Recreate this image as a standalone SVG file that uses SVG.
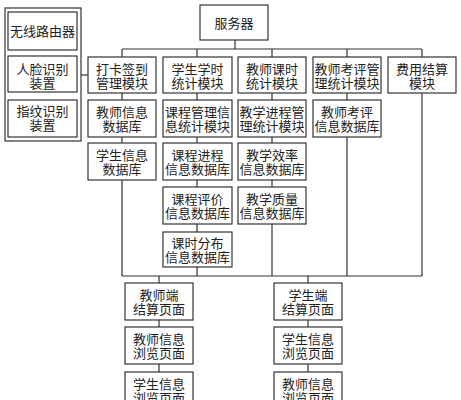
<svg xmlns="http://www.w3.org/2000/svg" width="461" height="400" viewBox="0 0 461 400">
<style>
rect{fill:#fff;stroke:#333;stroke-width:1.2}
text{font-family:"Noto Sans CJK SC","Noto Sans",sans-serif;font-size:13px;fill:#222;text-anchor:middle}
.c{fill:none;stroke:#333;stroke-width:1.2}
</style>
<rect width="461" height="400" style="stroke:none"/>
<g id="connectors">
<path class="c" d="M235,40V49M122,49H422M122,49V57M197,49V57M272,49V57M347,49V57M422,49V57"/>
<path class="c" d="M81,75H88"/>
<path class="c" d="M122,93V100M122,137V143M122,180V276"/>
<path class="c" d="M197,93V100M197,137V143M197,180V187M197,224V232M197,267V276"/>
<path class="c" d="M272,93V100M272,137V143M272,180V187M272,224V276"/>
<path class="c" d="M347,93V100M347,137V276"/>
<path class="c" d="M422,93V276"/>
<path class="c" d="M122,276H422"/>
<path class="c" d="M159,276V283M159,320V327M159,364V372"/>
<path class="c" d="M308,276V283M308,320V327M308,364V372"/>
</g>
<g id="devices"><rect x="5" y="8" width="76" height="133"/></g>
<g id="router"><rect x="8" y="12" width="69" height="38"/><text x="42.5" y="36">无线路由器</text></g>
<g id="face"><rect x="8" y="56" width="69" height="36"/><text x="42.5" y="74">人脸识别</text><text x="42.5" y="88">装置</text></g>
<g id="finger"><rect x="8" y="100" width="69" height="37"/><text x="42.5" y="116">指纹识别</text><text x="42.5" y="130">装置</text></g>
<g id="server"><rect x="200" y="5" width="68" height="35"/><text x="234" y="28">服务器</text></g>
<g id="m1"><rect x="88" y="57" width="68" height="36"/><text x="122" y="74">打卡签到</text><text x="122" y="88">管理模块</text></g>
<g id="m2"><rect x="163" y="57" width="69" height="36"/><text x="197.5" y="74">学生学时</text><text x="197.5" y="88">统计模块</text></g>
<g id="m3"><rect x="238" y="57" width="68" height="36"/><text x="272" y="74">教师课时</text><text x="272" y="88">统计模块</text></g>
<g id="m4"><rect x="313" y="57" width="68" height="36"/><text x="347" y="74">教师考评管</text><text x="347" y="88">理统计模块</text></g>
<g id="m5"><rect x="388" y="57" width="68" height="36"/><text x="422" y="74">费用结算</text><text x="422" y="88">模块</text></g>
<g id="d1"><rect x="88" y="100" width="68" height="37"/><text x="122" y="117">教师信息</text><text x="122" y="131">数据库</text></g>
<g id="d2"><rect x="163" y="100" width="69" height="37"/><text x="197.5" y="117">课程管理信</text><text x="197.5" y="131">息统计模块</text></g>
<g id="d3"><rect x="238" y="100" width="68" height="37"/><text x="272" y="117">教学进程管</text><text x="272" y="131">理统计模块</text></g>
<g id="d4"><rect x="313" y="100" width="68" height="37"/><text x="347" y="117">教师考评</text><text x="347" y="131">信息数据库</text></g>
<g id="e1"><rect x="88" y="143" width="68" height="37"/><text x="122" y="160">学生信息</text><text x="122" y="174">数据库</text></g>
<g id="e2"><rect x="163" y="143" width="69" height="37"/><text x="197.5" y="160">课程进程</text><text x="197.5" y="174">信息数据库</text></g>
<g id="e3"><rect x="238" y="143" width="68" height="37"/><text x="272" y="160">教学效率</text><text x="272" y="174">信息数据库</text></g>
<g id="f2"><rect x="163" y="187" width="69" height="37"/><text x="197.5" y="204">课程评价</text><text x="197.5" y="218">信息数据库</text></g>
<g id="f3"><rect x="238" y="187" width="68" height="37"/><text x="272" y="204">教学质量</text><text x="272" y="218">信息数据库</text></g>
<g id="g2"><rect x="163" y="232" width="69" height="35"/><text x="197.5" y="248">课时分布</text><text x="197.5" y="262">信息数据库</text></g>
<g id="t1"><rect x="125" y="283" width="68" height="37"/><text x="159" y="300">教师端</text><text x="159" y="314">结算页面</text></g>
<g id="t2"><rect x="125" y="327" width="68" height="37"/><text x="159" y="344">教师信息</text><text x="159" y="358">浏览页面</text></g>
<g id="t3"><rect x="125" y="372" width="68" height="37"/><text x="159" y="389">学生信息</text><text x="159" y="403">浏览页面</text></g>
<g id="s1"><rect x="274" y="283" width="68" height="37"/><text x="308" y="300">学生端</text><text x="308" y="314">结算页面</text></g>
<g id="s2"><rect x="274" y="327" width="68" height="37"/><text x="308" y="344">学生信息</text><text x="308" y="358">浏览页面</text></g>
<g id="s3"><rect x="274" y="372" width="68" height="37"/><text x="308" y="389">教师信息</text><text x="308" y="403">浏览页面</text></g>
</svg>
